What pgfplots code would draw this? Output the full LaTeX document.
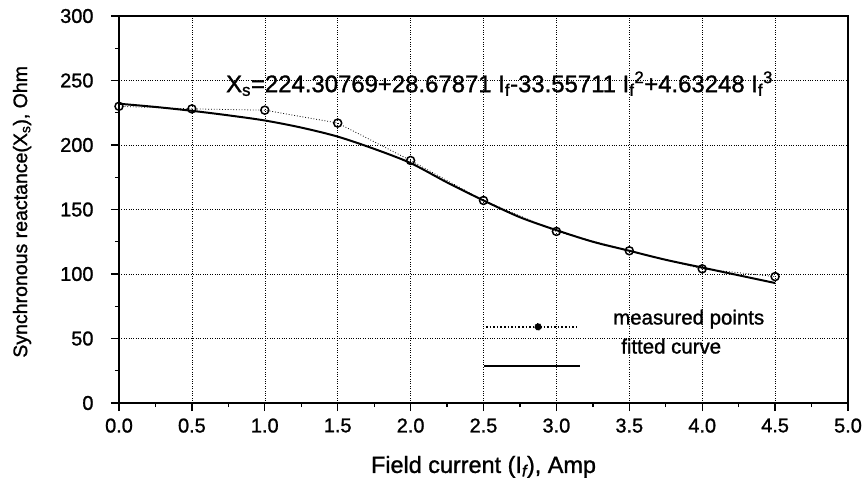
\documentclass[border=0pt]{standalone}
\usepackage{fontspec}
\setmainfont{Liberation Sans}[RawFeature={embolden=1.2}]
\usepackage{pgfplots}
\pgfplotsset{compat=1.18}

\begin{document}
\begin{tikzpicture}
\begin{axis}[
  scale only axis, width=729bp, height=387bp,
  xmin=0, xmax=5, ymin=0, ymax=300,
  xtick={0,0.5,1,1.5,2,2.5,3,3.5,4,4.5,5},
  ytick={0,50,100,150,200,250,300},
  minor x tick num=1, minor y tick num=1,
  xticklabel style={/pgf/number format/fixed, /pgf/number format/fixed zerofill,
    /pgf/number format/precision=1, yshift=-4bp},
  yticklabel style={xshift=-14bp},
  /pgf/number format/assume math mode=true,
  tick align=outside, tick pos=left,
  major tick length=8bp, minor tick length=4bp,
  every tick/.style={black, line width=1.3pt},
  axis line style={line width=1.5pt},
  grid=major, major grid style={dotted, black, line width=0.6pt},
  tick label style={font=\fontsize{20}{22}\selectfont},
  xlabel={Field current (I\textsubscript{\itshape f}), Amp},
  ylabel={Synchronous reactance(X\textsubscript{s}), Ohm},
  xlabel style={font=\fontsize{23.5}{25}\selectfont,
    at={(axis description cs:0.5,-0.165)}, anchor=center},
  ylabel style={font=\fontsize{19.6}{22}\selectfont,
    at={(axis description cs:-0.133,0.494)}, anchor=center},
  legend style={at={(0.495,0.252)}, anchor=north west, draw=none, fill=none,
    font=\fontsize{20.5}{23}\selectfont, row sep=6bp,
    /tikz/every odd column/.append style={column sep=30bp}},
  legend cell align=left,
]
\addplot[black, dotted, line width=0.8pt, mark=o, mark size=4bp,
  mark options={solid, line width=1.5pt},
  legend image code/.code={
    \draw[black, dotted, line width=1.6pt] (0bp,-9bp) -- (90bp,-9bp);
    \fill[black] (52bp,-9bp) circle (3.5bp);}]
  coordinates {
  (0,230) (0.5,228) (1,227) (1.5,217) (2,188) (2.5,157)
  (3,133) (3.5,118) (4,104) (4.5,98)
};
\addlegendentry{measured points}
\addplot[black, line width=2pt, smooth,
  legend image code/.code={
    \draw[black, line width=2.2pt] (-2bp,-19bp) -- (94bp,-19bp);}]
  coordinates {
  (0,232) (0.25,229.5) (0.5,226.5) (0.75,223) (1,219) (1.25,213.5)
  (1.5,206.5) (1.75,197) (2,186) (2.25,171) (2.5,157) (2.75,144)
  (3,134) (3.25,125) (3.5,118) (3.75,111) (4,105) (4.25,99) (4.5,93)
};
\addlegendentry{\hspace{8bp}fitted curve}
\node[anchor=base, font=\fontsize{24}{26}\selectfont] at (axis cs:2.61,241)
  {X\textsubscript{s}=224.30769+28.67871 I\textsubscript{f}-33.55711 I\textsubscript{f}\textsuperscript{2}+4.63248 I\textsubscript{f}\textsuperscript{3}};
\end{axis}
% invisible frame fixing the margins round the axis
\path ([xshift=-119bp,yshift=-82bp]current axis.south west)
  rectangle ([xshift=18bp,yshift=16bp]current axis.north east);
\end{tikzpicture}
\end{document}
